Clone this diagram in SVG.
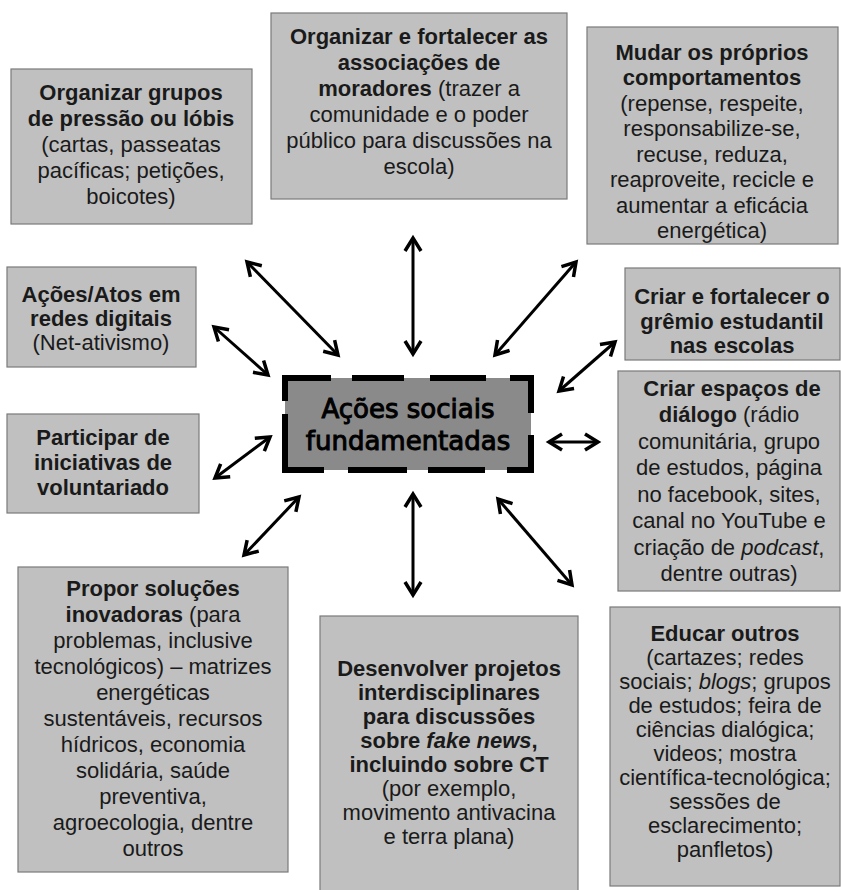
<svg xmlns="http://www.w3.org/2000/svg" width="841" height="890" viewBox="0 0 841 890">
<style>
.box{fill:#c0c0c0;stroke:#7a7a7a;stroke-width:1.2}
text{font-family:"Liberation Sans",Arial,sans-serif;font-size:22px;fill:#1a1a1a;text-anchor:middle}
.b{font-weight:bold}
.i{font-style:italic}
.ctr{font-family:"DejaVu Sans",Verdana,sans-serif;font-size:26px;fill:#000;stroke:#000;stroke-width:1}
.arr{stroke:#000;stroke-width:3;fill:none;marker-start:url(#ah);marker-end:url(#ah)}
</style>
<defs>
<marker id="ah" markerUnits="userSpaceOnUse" viewBox="-18 -12 22 24" refX="0" refY="0" markerWidth="22" markerHeight="24" orient="auto-start-reverse">
<path d="M-13,-8 L0,0 L-13,8" fill="none" stroke="#000" stroke-width="3.5"/>
</marker>
</defs>
<rect width="841" height="890" fill="#fff"/>
<g id="connectors">
<line class="arr" x1="413" y1="238" x2="413" y2="354"/>
<line class="arr" x1="247" y1="262" x2="338" y2="355"/>
<line class="arr" x1="214" y1="327" x2="268" y2="375"/>
<line class="arr" x1="215" y1="478" x2="270" y2="437"/>
<line class="arr" x1="244" y1="555" x2="299" y2="497"/>
<line class="arr" x1="413" y1="494" x2="413" y2="595"/>
<line class="arr" x1="498" y1="499" x2="572" y2="585"/>
<line class="arr" x1="549" y1="442" x2="598" y2="442"/>
<line class="arr" x1="559" y1="391" x2="615" y2="342"/>
<line class="arr" x1="495" y1="355" x2="576" y2="262"/>
</g>
<g id="n1">
<rect class="box" x="11" y="69" width="241" height="155"/>
<text x="131" y="100" class="b">Organizar grupos</text>
<text x="131" y="126" class="b">de pressão ou lóbis</text>
<text x="131" y="152">(cartas, passeatas</text>
<text x="131" y="178">pacíficas; petições,</text>
<text x="131" y="204">boicotes)</text>
</g>
<g id="n2">
<rect class="box" x="271" y="13" width="296" height="186"/>
<text x="419" y="44" class="b">Organizar e fortalecer as</text>
<text x="419" y="70" class="b">associações de</text>
<text x="419" y="96"><tspan class="b">moradores</tspan> (trazer a</text>
<text x="419" y="122">comunidade e o poder</text>
<text x="419" y="148">público para discussões na</text>
<text x="419" y="174">escola)</text>
</g>
<g id="n3">
<rect class="box" x="587" y="27" width="251" height="217"/>
<text x="712" y="60" class="b">Mudar os próprios</text>
<text x="712" y="85" class="b">comportamentos</text>
<text x="712" y="111">(repense, respeite,</text>
<text x="712" y="136">responsabilize-se,</text>
<text x="712" y="162">recuse, reduza,</text>
<text x="712" y="187">reaproveite, recicle e</text>
<text x="712" y="213">aumentar a eficácia</text>
<text x="712" y="238">energética)</text>
</g>
<g id="n4">
<rect class="box" x="7" y="267" width="189" height="100"/>
<text x="101" y="302" class="b">Ações/Atos em</text>
<text x="101" y="326" class="b">redes digitais</text>
<text x="101" y="350">(Net-ativismo)</text>
</g>
<g id="n5">
<rect class="box" x="7" y="414" width="192" height="99"/>
<text x="103" y="445" class="b">Participar de</text>
<text x="103" y="470" class="b">iniciativas de</text>
<text x="103" y="495" class="b">voluntariado</text>
</g>
<g id="center">
<rect x="285" y="378" width="246" height="92" fill="#8a8a8a"/>
<path d="M282 378H331M352 378H404M430 378H486M510 378H534M531 375V413M531 435V473M282 470H324M348 470H407M428 470H485M507 470H534M285 375V401M285 414V473" stroke="#000" stroke-width="6" fill="none"/>
<text x="408" y="418" class="ctr">Ações sociais</text>
<text x="408" y="450" class="ctr">fundamentadas</text>
</g>
<g id="n6">
<rect class="box" x="625" y="268" width="215" height="92"/>
<text x="732" y="304" class="b">Criar e fortalecer o</text>
<text x="732" y="329" class="b">grêmio estudantil</text>
<text x="732" y="353" class="b">nas escolas</text>
</g>
<g id="n7">
<rect class="box" x="618" y="371" width="222" height="220"/>
<text x="732" y="396" class="b">Criar espaços de</text>
<text x="729" y="422"><tspan class="b">diálogo</tspan> (rádio</text>
<text x="729" y="449">comunitária, grupo</text>
<text x="729" y="475">de estudos, página</text>
<text x="729" y="502">no facebook, sites,</text>
<text x="729" y="528">canal no YouTube e</text>
<text x="729" y="555">criação de <tspan class="i">podcast</tspan>,</text>
<text x="729" y="581">dentre outras)</text>
</g>
<g id="n8">
<rect class="box" x="18" y="567" width="270" height="305"/>
<text x="153" y="596" class="b">Propor soluções</text>
<text x="153" y="622"><tspan class="b">inovadoras</tspan> (para</text>
<text x="153" y="648">problemas, inclusive</text>
<text x="153" y="674">tecnológicos) – matrizes</text>
<text x="153" y="700">energéticas</text>
<text x="153" y="726">sustentáveis, recursos</text>
<text x="153" y="752">hídricos, economia</text>
<text x="153" y="778">solidária, saúde</text>
<text x="153" y="804">preventiva,</text>
<text x="153" y="830">agroecologia, dentre</text>
<text x="153" y="856">outros</text>
</g>
<g id="n9">
<rect class="box" x="320" y="616" width="258" height="280"/>
<text x="449" y="676" class="b">Desenvolver projetos</text>
<text x="449" y="700" class="b">interdisciplinares</text>
<text x="449" y="724" class="b">para discussões</text>
<text x="449" y="748" class="b">sobre <tspan class="i">fake news</tspan>,</text>
<text x="449" y="772" class="b">incluindo sobre CT</text>
<text x="449" y="796">(por exemplo,</text>
<text x="449" y="820">movimento antivacina</text>
<text x="449" y="844">e terra plana)</text>
</g>
<g id="n10">
<rect class="box" x="610" y="607" width="230" height="279"/>
<text x="725" y="641" class="b">Educar outros</text>
<text x="725" y="665">(cartazes; redes</text>
<text x="725" y="689">sociais; <tspan class="i">blogs</tspan>; grupos</text>
<text x="725" y="713">de estudos; feira de</text>
<text x="725" y="737">ciências dialógica;</text>
<text x="725" y="761">videos; mostra</text>
<text x="725" y="785">científica-tecnológica;</text>
<text x="725" y="809">sessões de</text>
<text x="725" y="833">esclarecimento;</text>
<text x="725" y="857">panfletos)</text>
</g>
</svg>
